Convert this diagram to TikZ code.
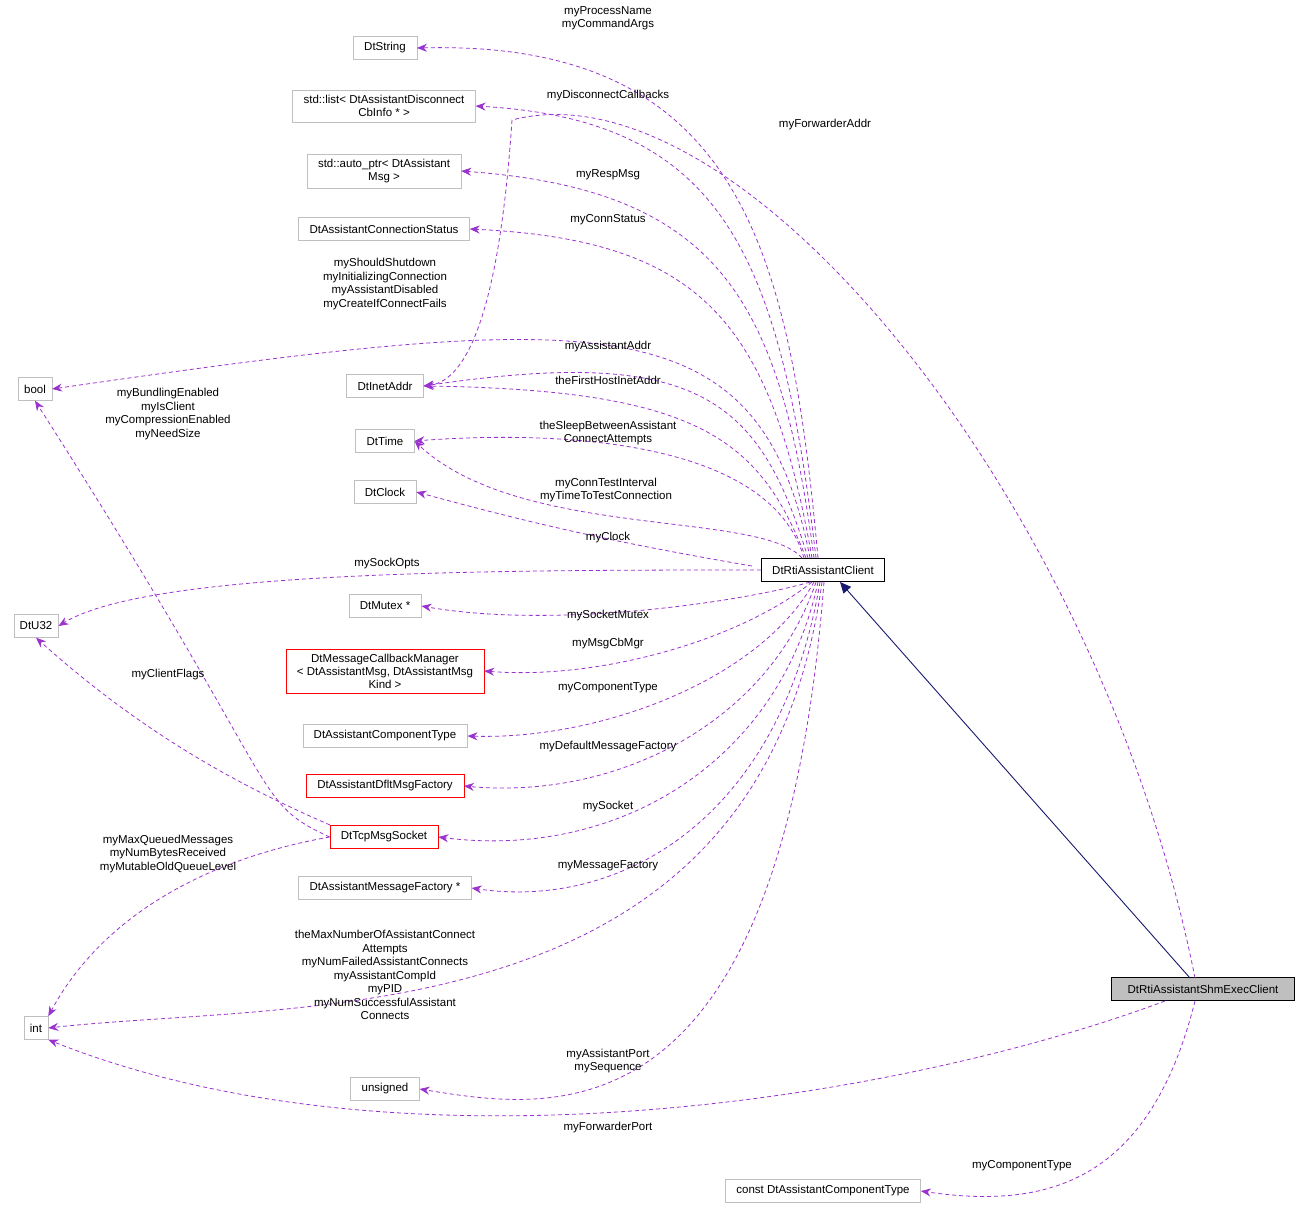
\documentclass[tikz,border=0pt]{standalone}
\usepackage{fontspec}
\setmainfont{Liberation Sans}
\usetikzlibrary{arrows.meta,positioning}
\definecolor{edgepurple}{HTML}{9A32CD}
\definecolor{boxgray}{HTML}{BFBFBF}
\definecolor{inhnavy}{HTML}{191970}
\tikzset{
  cls/.style={draw=boxgray,fill=white,inner xsep=11pt,inner ysep=3pt,minimum height=23pt,align=center,font=\fontsize{11.5}{13}\selectfont},
  redcls/.style={cls,draw=red},
  use/.style={draw=edgepurple,line width=0.8pt,dash pattern=on 4pt off 3pt,-{Stealth[length=10pt,width=8pt]}},
  lbl/.style={align=center,font=\fontsize{11.5}{13.5}\selectfont,inner sep=0pt}
}
\begin{document}
\begin{tikzpicture}[x=1pt,y=-1pt]
\useasboundingbox (0,0) rectangle (1309,1211);
% classes
\node[cls] (string) at (385,48) {DtString};
\node[cls,inner ysep=5pt] (list) at (384,106) {std::list\textless{} DtAssistantDisconnect\\CbInfo * \textgreater{}};
\node[cls,inner ysep=5pt] (autoptr) at (384,171) {std::auto\_ptr\textless{} DtAssistant\\Msg \textgreater{}};
\node[cls] (connstat) at (384,229) {DtAssistantConnectionStatus};
\node[cls,inner xsep=6pt] (bool) at (35,389) {bool};
\node[cls] (inet) at (385,386) {DtInetAddr};
\node[cls] (time) at (385,441) {DtTime};
\node[cls] (clock) at (385,492) {DtClock};
\node[cls,draw=black,line width=0.8pt] (client) at (823,570) {DtRtiAssistantClient};
\node[cls,inner xsep=6pt] (u32) at (36,626) {DtU32};
\node[cls] (mutex) at (385,606) {DtMutex *};
\node[cls,draw=red,inner ysep=5pt] (cbmgr) at (385,671) {DtMessageCallbackManager\\\textless{} DtAssistantMsg, DtAssistantMsg\\Kind \textgreater{}};
\node[cls] (comptype) at (385,736) {DtAssistantComponentType};
\node[redcls] (dflt) at (385,786) {DtAssistantDfltMsgFactory};
\node[redcls] (tcp) at (384,837) {DtTcpMsgSocket};
\node[cls] (msgfact) at (385,888) {DtAssistantMessageFactory *};
\node[cls,inner xsep=6pt] (int) at (36,1028) {int};
\node[cls] (unsigned) at (385,1089) {unsigned};
\node[cls,draw=black,fill=boxgray,inner xsep=16pt,line width=0.8pt] (shm) at (1203,989) {DtRtiAssistantShmExecClient};
\node[cls] (constct) at (823,1191) {const DtAssistantComponentType};
% inheritance
\draw[inhnavy,line width=0.9pt,-{Triangle[length=11pt,width=10pt]}] (1190,978) -- (840,582);
% members of DtRtiAssistantClient
\draw[use] (818,558) .. controls (790,250) and (740,40) .. (string.east);
\draw[use] (816,558) .. controls (780,250) and (720,120) .. (list.east);
\draw[use] (814,558) .. controls (780,300) and (720,190) .. (autoptr.east);
\draw[use] (812,558) .. controls (770,320) and (700,240) .. (connstat.east);
\draw[use] (810,558) .. controls (760,300) and (600,310) .. (bool.east);
\draw[use] (808,558) .. controls (760,400) and (700,345) .. (inet.east);
\draw[use] (806,558) .. controls (760,440) and (700,390) .. (inet.east);
\draw[use] (804,558) .. controls (770,440) and (560,430) .. (time.east);
\draw[use] (802,558) .. controls (760,510) and (520,540) .. (time.east);
\draw[use] (752,566) .. controls (600,540) and (520,520) .. (clock.east);
\draw[use] (client.west) .. controls (500,570) and (150,570) .. (u32.east);
\draw[use] (810,582) .. controls (750,600) and (560,630) .. (mutex.east);
\draw[use] (812,582) .. controls (740,640) and (600,680) .. (cbmgr.east);
\draw[use] (814,582) .. controls (760,680) and (600,740) .. (comptype.east);
\draw[use] (816,582) .. controls (770,720) and (620,800) .. (dflt.east);
\draw[use] (818,582) .. controls (780,760) and (620,860) .. (tcp.east);
\draw[use] (820,582) .. controls (780,820) and (620,910) .. (msgfact.east);
\draw[use] (822,582) .. controls (760,1040) and (300,1000) .. (int.east);
\draw[use] (824,582) .. controls (780,1150) and (550,1110) .. (unsigned.east);
% members of DtTcpMsgSocket
\draw[use] (tcp.west) .. controls (250,800) and (290,800) .. (bool.south);
\draw[use] (330,825) .. controls (250,790) and (150,740) .. (u32.south);
\draw[use] (tcp.west) .. controls (200,860) and (100,920) .. (int.north east);
% members of DtRtiAssistantShmExecClient
\draw[use] (1195,978) .. controls (1100,500) and (740,60) .. (512,120) .. controls (500,300) and (470,380) .. (inet.east);
\draw[use] (1165,1001) .. controls (900,1100) and (400,1180) .. (int.south east);
\draw[use] (1195,1001) .. controls (1150,1180) and (1050,1210) .. (constct.east);
% labels
\node[lbl] at (608,18) {myProcessName\\myCommandArgs};
\node[lbl] at (608,96) {myDisconnectCallbacks};
\node[lbl] at (825,125) {myForwarderAddr};
\node[lbl] at (608,175) {myRespMsg};
\node[lbl] at (608,220) {myConnStatus};
\node[lbl] at (385,284) {myShouldShutdown\\myInitializingConnection\\myAssistantDisabled\\myCreateIfConnectFails};
\node[lbl] at (608,347) {myAssistantAddr};
\node[lbl] at (608,380) {theFirstHostInetAddr};
\node[lbl] at (168,414) {myBundlingEnabled\\myIsClient\\myCompressionEnabled\\myNeedSize};
\node[lbl] at (608,433) {theSleepBetweenAssistant\\ConnectAttempts};
\node[lbl] at (606,490) {myConnTestInterval\\myTimeToTestConnection};
\node[lbl] at (608,538) {myClock};
\node[lbl] at (387,564) {mySockOpts};
\node[lbl] at (608,616) {mySocketMutex};
\node[lbl] at (608,644) {myMsgCbMgr};
\node[lbl] at (168,675) {myClientFlags};
\node[lbl] at (608,688) {myComponentType};
\node[lbl] at (608,747) {myDefaultMessageFactory};
\node[lbl] at (608,807) {mySocket};
\node[lbl] at (168,854) {myMaxQueuedMessages\\myNumBytesReceived\\myMutableOldQueueLevel};
\node[lbl] at (608,866) {myMessageFactory};
\node[lbl] at (385,975) {theMaxNumberOfAssistantConnect\\Attempts\\myNumFailedAssistantConnects\\myAssistantCompId\\myPID\\myNumSuccessfulAssistant\\Connects};
\node[lbl] at (608,1061) {myAssistantPort\\mySequence};
\node[lbl] at (608,1128) {myForwarderPort};
\node[lbl] at (1022,1166) {myComponentType};
\end{tikzpicture}
\end{document}
